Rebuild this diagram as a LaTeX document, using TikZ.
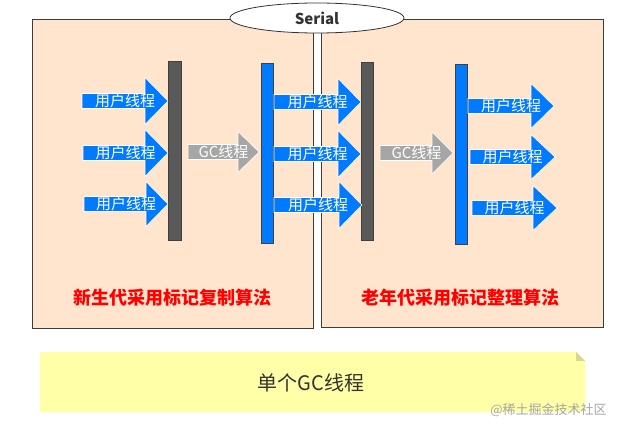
\documentclass[tikz,border=0pt]{standalone}
\usepackage{fontspec}
\setmainfont{Noto Sans CJK SC}
\usetikzlibrary{shapes.geometric}
\definecolor{peach}{RGB}{255,229,205}
\definecolor{panelline}{RGB}{60,60,60}
\definecolor{darkbarc}{RGB}{89,89,89}
\definecolor{bluec}{RGB}{0,122,255}
\definecolor{grayarr}{RGB}{166,166,166}
\definecolor{notey}{RGB}{255,255,168}
\definecolor{foldc}{RGB}{216,216,142}
\definecolor{wmark}{RGB}{165,165,165}
\definecolor{txtdark}{RGB}{51,51,51}
\tikzset{
  panel/.style={draw=panelline, fill=peach, line width=0.9pt, anchor=north west, inner sep=0pt, outer sep=0pt},
  darkbar/.style={draw=black!75, fill=darkbarc, line width=0.8pt, anchor=north west, inner sep=0pt},
  bluebar/.style={draw=black!75, fill=bluec, line width=0.8pt, anchor=north west, inner sep=0pt},
  arrtext/.style={text=white, font=\fontsize{15}{17}\selectfont, inner sep=0pt},
  redtitle/.style={text=red, font=\fontsize{18}{21}\selectfont\bfseries},
}
\newcommand\barrow[8]{%
  \path[fill=#7, draw=white, line width=0.6pt] (#2,#4-7.5) -- (#3-#5,#4-7.5) -- (#3-#5,#4-#6) -- (#3,#4) -- (#3-#5,#4+#6) -- (#3-#5,#4+7.5) -- (#2,#4+7.5) -- cycle;
  \node[arrtext] (#1) at ({(#2+#3)/2},#4) {#8};
}
\begin{document}
\begin{tikzpicture}[x=1pt,y=-1pt]
\useasboundingbox (0,0) rectangle (620,433);
% panels
\node[panel, minimum width=281pt, minimum height=309pt] (young) at (32,19) {};
\node[panel, minimum width=282pt, minimum height=308pt] (old) at (321,19) {};
% Serial ellipse
\node[ellipse, draw=black!80, fill=white, line width=0.8pt, minimum width=174pt, minimum height=30pt, inner sep=0pt,
      text=txtdark, font=\fontsize{15}{17}\selectfont\bfseries] (serial) at (317,18) {Serial};
% bars
\node[darkbar, minimum width=13pt, minimum height=179pt] (bar1) at (168,61) {};
\node[bluebar, minimum width=12pt, minimum height=180pt] (bar2) at (261,63) {};
\node[darkbar, minimum width=12pt, minimum height=178pt] (bar3) at (361,62) {};
\node[bluebar, minimum width=12pt, minimum height=180pt] (bar4) at (455,64) {};
% left user arrows
\barrow{u1}{82}{168}{101}{23}{23.5}{bluec}{用户线程}
\barrow{u2}{83}{168}{153}{23}{23.5}{bluec}{用户线程}
\barrow{u3}{84}{168}{204}{22}{22.5}{bluec}{用户线程}
% left GC arrow
\barrow{gc1}{188}{259}{152}{21}{20.5}{grayarr}{GC线程}
% middle user arrows
\barrow{m1}{274}{361}{102}{23}{23.5}{bluec}{用户线程}
\barrow{m2}{274}{361}{154}{23}{23.5}{bluec}{用户线程}
\barrow{m3}{274}{362}{205}{23}{23.5}{bluec}{用户线程}
% right GC arrow
\barrow{gc2}{380}{453}{153}{21}{21}{grayarr}{GC线程}
% right user arrows
\barrow{r1}{468}{554}{106}{23}{22.5}{bluec}{用户线程}
\barrow{r2}{470}{555}{157}{24}{22.5}{bluec}{用户线程}
\barrow{r3}{472}{557}{208}{24}{22.5}{bluec}{用户线程}
% titles
\node[redtitle] (ytitle) at (172.5,298) {新生代采用标记复制算法};
\node[redtitle] (otitle) at (460.5,298) {老年代采用标记整理算法};
% note
\path[fill=notey] (40,352) -- (576,352) -- (585,361) -- (585,412) -- (40,412) -- cycle;
\path[fill=foldc] (576,352) -- (585,361) -- (576,361) -- cycle;
\node[text=txtdark, font=\fontsize{20}{22}\selectfont] (note) at (311,383) {单个GC线程};
% watermark
\node[text=wmark, font=\fontsize{13}{15}\selectfont, inner sep=0pt] (wm) at (548.5,410) {@稀土掘金技术社区};
\end{tikzpicture}
\end{document}
